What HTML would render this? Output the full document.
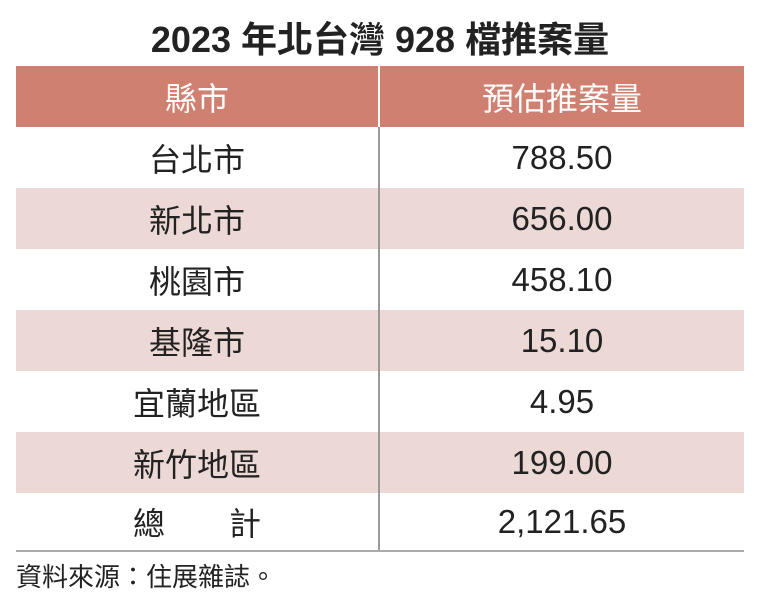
<!DOCTYPE html>
<html><head><meta charset="utf-8"><style>
body{margin:0;width:760px;height:610px;background:#fff;font-family:"Liberation Sans","Noto Sans CJK TC",sans-serif;color:#222;position:relative;overflow:hidden}
#title{position:absolute;top:17px;left:0;width:760px;text-align:center;font-size:36px;font-weight:bold;line-height:46px}
.row{position:absolute;left:16px;width:728px;height:61px;display:flex}
.row div{display:flex;align-items:center;justify-content:center;font-size:32px;height:100%}
.row .c2{font-size:33px}
.c1{width:363px}.c2{width:365px;border-left:2px solid #999}
.hdr{background:#d08070;color:#fff}
.hdr .c2{border-left:2px solid #fff;font-size:32px}
.pink{background:#ecd8d4}
#bot{position:absolute;left:16px;top:550px;width:728px;height:2px;background:#aaa}
#src{position:absolute;left:16px;top:559px;font-size:26px;line-height:36px}
</style></head><body>
<div id="title">2023 年北台灣 928 檔推案量</div>
<div class="row hdr" style="top:66px"><div class="c1">縣市</div><div class="c2">預估推案量</div></div>
<div class="row" style="top:127px"><div class="c1">台北市</div><div class="c2">788.50</div></div>
<div class="row pink" style="top:188px"><div class="c1">新北市</div><div class="c2">656.00</div></div>
<div class="row" style="top:249px"><div class="c1">桃園市</div><div class="c2">458.10</div></div>
<div class="row pink" style="top:310px"><div class="c1">基隆市</div><div class="c2">15.10</div></div>
<div class="row" style="top:371px"><div class="c1">宜蘭地區</div><div class="c2">4.95</div></div>
<div class="row pink" style="top:432px"><div class="c1">新竹地區</div><div class="c2">199.00</div></div>
<div class="row" style="top:493px;height:57px"><div class="c1">總&emsp;&emsp;計</div><div class="c2">2,121.65</div></div>
<div id="bot"></div>
<div id="src">資料來源：住展雜誌。</div>
</body></html>
